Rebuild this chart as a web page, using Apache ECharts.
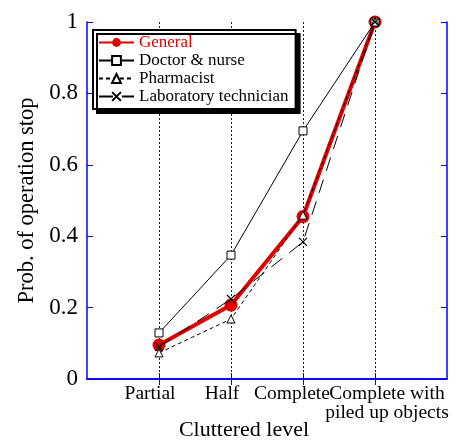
<!DOCTYPE html>
<html><head><meta charset="utf-8">
<script src="https://cdn.jsdelivr.net/npm/echarts@6/dist/echarts.min.js"></script>
<style>html,body{margin:0;padding:0;background:#fff}#c{width:459px;height:443px}</style>
</head><body><div id="c"></div>
<script>
const categories = ['', 'Partial', 'Half', 'Complete', 'Complete with\npiled up objects', ''];
const general = [null, 0.095, 0.207, 0.455, 1.0, null];
const doctorNurse = [null, 0.129, 0.347, 0.695, 1.0, null];
const pharmacist = [null, 0.073, 0.168, 0.459, 1.0, null];
const labTech = [null, 0.090, 0.224, 0.384, 1.0, null];
const yTicks = [0, 0.2, 0.4, 0.6, 0.8, 1];

const font = 'Liberation Serif';
const blue = '#0000ff';
// horizontal label nudges (padding) per category index
const labelPad = [[0,0,0,0],[0,18,0,0],[0,18,0,0],[0,22,0,0],[0,0,0,24],[0,0,0,0]];
const xData = categories.map((c, i) => ({ value: c, textStyle: { padding: labelPad[i] } }));

const chart = echarts.init(document.getElementById('c'));
const xBase = {
  type: 'category', data: xData, boundaryGap: false,
  axisLine: { lineStyle: { color: blue, width: 1.5 } },
  axisTick: { inside: true, length: 6, lineStyle: { color: blue }, interval: (i) => i > 0 && i < 5 },
  nameMoveOverlap: false
};
const yBase = {
  type: 'value', min: 0, max: 1, interval: 0.2,
  axisLine: { show: true, lineStyle: { color: blue, width: 1.5 } },
  axisTick: { show: true, inside: true, length: 6, lineStyle: { color: blue } },
  splitLine: { show: false },
  nameMoveOverlap: false
};
chart.setOption({
  animation: false,
  grid: { left: 87, right: 12, top: 22, bottom: 64, containLabel: false, outerBoundsMode: 'none' },
  legend: {
    left: 93, top: 30, orient: 'vertical', itemGap: 1, itemWidth: 35, itemHeight: 11,
    padding: [4, 7, 4, 5],
    backgroundColor: '#fff', borderColor: '#000', borderWidth: 2,
    shadowColor: '#000', shadowOffsetX: 4, shadowOffsetY: 4, shadowBlur: 0,
    textStyle: { fontFamily: font, fontSize: 17, color: '#000' },
    data: [
      { name: 'General', textStyle: { color: '#e00000' } },
      'Doctor & nurse', 'Pharmacist', 'Laboratory technician'
    ]
  },
  xAxis: [
    Object.assign({}, xBase, {
      position: 'bottom',
      axisLabel: { fontFamily: font, fontSize: 19.5, color: '#000', margin: 5, lineHeight: 19,
        interval: 0 },
      splitLine: { show: true, interval: (i) => i > 0 && i < 5,
        lineStyle: { color: blue, type: [2, 2], width: 1 } },
      name: 'Cluttered level', nameLocation: 'middle', nameGap: 40,
      nameTextStyle: { fontFamily: font, fontSize: 22, color: '#000', padding: [0, 46, 0, 0] }
    }),
    Object.assign({}, xBase, { position: 'top', axisLabel: { show: false }, splitLine: { show: false } })
  ],
  yAxis: [
    Object.assign({}, yBase, {
      position: 'left',
      axisLabel: { fontFamily: font, fontSize: 23, color: '#000', margin: 9,
        formatter: (v) => (yTicks.includes(Math.round(v * 10) / 10) ? String(Math.round(v * 10) / 10) : '') },
      name: 'Prob. of operation stop', nameLocation: 'middle', nameGap: 48,
      nameTextStyle: { fontFamily: font, fontSize: 22.5, color: '#000' }
    }),
    Object.assign({}, yBase, { position: 'right', axisLabel: { show: false } })
  ],
  series: [
    { name: 'General', type: 'line', data: general, z: 2,
      lineStyle: { color: '#e00000', width: 4 }, itemStyle: { color: '#e00000' },
      symbol: 'circle', symbolSize: 13 },
    { name: 'Doctor & nurse', type: 'line', data: doctorNurse, z: 3,
      lineStyle: { color: '#000', width: 1 },
      itemStyle: { color: '#fff', borderColor: '#000', borderWidth: 1 },
      symbol: 'rect', symbolSize: 8 },
    { name: 'Pharmacist', type: 'line', data: pharmacist, z: 3,
      lineStyle: { color: '#000', width: 1, type: [4, 3] },
      itemStyle: { color: '#fff', borderColor: '#000', borderWidth: 1 },
      symbol: 'triangle', symbolSize: 8 },
    { name: 'Laboratory technician', type: 'line', data: labTech, z: 3,
      lineStyle: { color: '#000', width: 1, type: [14, 9] },
      itemStyle: { color: 'none', borderColor: '#000', borderWidth: 1.2 },
      symbol: 'path://M0,0L10,10M10,0L0,10', symbolSize: 8 }
  ]
});
</script></body></html>
